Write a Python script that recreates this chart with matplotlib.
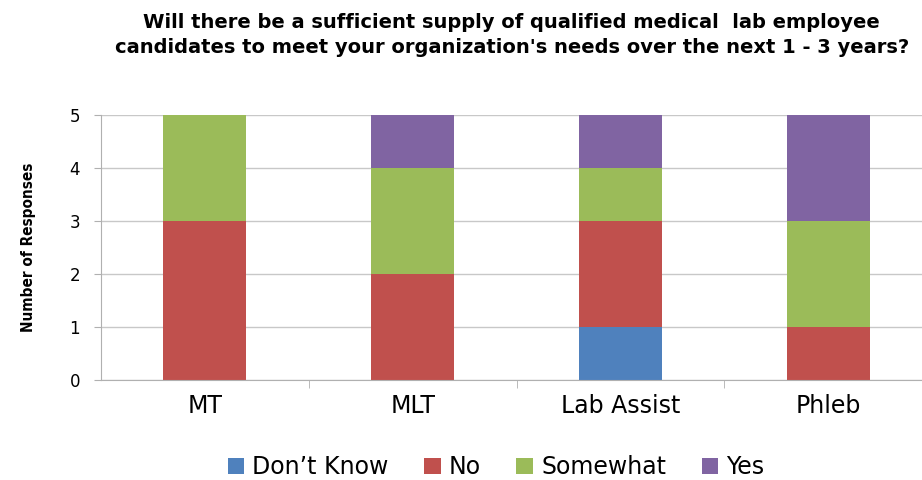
import matplotlib
matplotlib.use('Agg')
import matplotlib.pyplot as plt
import numpy as np

# data
categories = ['MT', 'MLT', 'Lab Assist', 'Phleb']
series_names = ['Don\u2019t Know', 'No', 'Somewhat', 'Yes']
dont_know = [0, 0, 1, 0]
no = [3, 2, 2, 1]
somewhat = [2, 2, 1, 2]
yes = [0, 1, 1, 2]
colors = ['#4F81BD', '#C0504D', '#9BBB59', '#8064A2']

title = ("Will there be a sufficient supply of qualified medical  lab employee\n"
         "candidates to meet your organization's needs over the next 1 - 3 years?")

fig = plt.figure(figsize=(9.22, 4.8), dpi=100)
ax = fig.add_axes([101/922, 1 - 380/480, 831/922, 265/480])

x = np.arange(len(categories))
bottom = np.zeros(len(categories))
for name, vals, c in zip(series_names, [dont_know, no, somewhat, yes], colors):
    ax.bar(x, vals, width=0.4, bottom=bottom, color=c, label=name, zorder=2)
    bottom += np.array(vals)

ax.set_xlim(-0.5, 3.5)
ax.set_ylim(0, 5)
ax.set_yticks(range(6))
ax.yaxis.grid(True, color='#c8c8c8', lw=1, zorder=0)

for s in ['top', 'right']:
    ax.spines[s].set_visible(False)
for s in ['left', 'bottom']:
    ax.spines[s].set_color('#b0b0b0')

ax.set_xticks(x)
ax.set_xticklabels(categories, fontsize=17)
ax.tick_params(axis='x', length=0, pad=10)
ax.set_xticks(np.arange(0.5, 3.5, 1), minor=True)
ax.tick_params(axis='x', which='minor', length=6, color='#b0b0b0')
ax.tick_params(axis='y', length=5, color='#b0b0b0', labelsize=12, pad=10)

ax.set_ylabel('Number of Responses', fontweight='bold', fontsize=11,
              fontstretch='condensed', labelpad=24)

fig.text(0.555, 0.928, title, ha='center', va='center', fontsize=14,
         fontweight='bold', linespacing=1.4)

fig.legend(loc='center', bbox_to_anchor=(0.538, 0.027), ncol=4, frameon=False,
           fontsize=17, handlelength=0.7, handleheight=0.7, handletextpad=0.35,
           columnspacing=1.5)

fig.savefig('out.png', dpi=100)
